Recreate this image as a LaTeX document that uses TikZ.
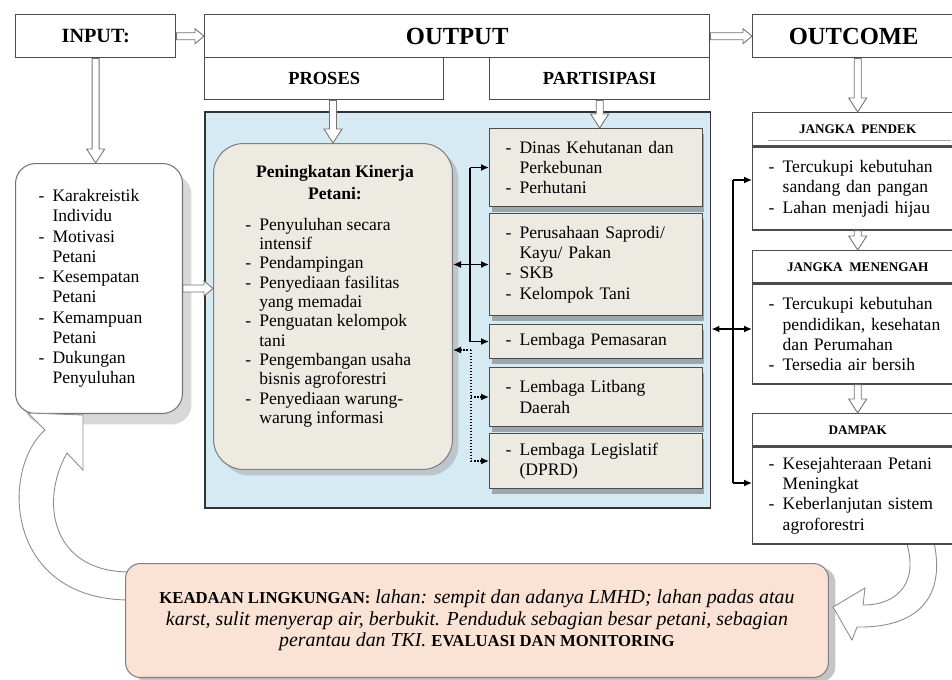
\documentclass[tikz,border=0pt]{standalone}
\usepackage{fontspec}
\setmainfont{Liberation Serif}
\usetikzlibrary{calc,shadows,arrows.meta,positioning}
\definecolor{panelblue}{RGB}{213,234,242}
\definecolor{boxgrey}{RGB}{237,234,226}
\definecolor{peach}{RGB}{250,227,213}
\def\varrow(#1)(#2){\draw[blk] ($(#1)+(-3.5,0)$) -- ($(#2)+(-3.5,-14)$) -- ($(#2)+(-9,-14)$) -- (#2) -- ($(#2)+(9,-14)$) -- ($(#2)+(3.5,-14)$) -- ($(#1)+(3.5,0)$) -- cycle;}
\def\harrow(#1)(#2){\draw[blk] ($(#1)+(0,-3.5)$) -- ($(#2)+(-9,-3.5)$) -- ($(#2)+(-9,-7.5)$) -- (#2) -- ($(#2)+(-9,7.5)$) -- ($(#2)+(-9,3.5)$) -- ($(#1)+(0,3.5)$) -- cycle;}
\newcommand{\itemdash}{\makebox[0.28cm][l]{-}}
\newcommand{\itemgap}{\hspace*{0.28cm}}

\begin{document}
\begin{tikzpicture}[x=0.02cm, y=-0.02cm,
	hdr/.style={draw=black!70, line width=0.8pt, fill=white, inner sep=0pt},
	lbox/.style={draw=black!55, line width=0.6pt, fill=white, rounded corners=0.4cm, drop shadow={shadow xshift=0.18cm, shadow yshift=-0.22cm, fill=black!30}},
	pkbox/.style={draw=black!50, line width=0.6pt, fill=boxgrey, rounded corners=0.6cm, drop shadow={shadow xshift=0.12cm, shadow yshift=-0.12cm, fill=black!35}},
	pbox/.style={draw=black!70, line width=0.6pt, fill=boxgrey, inner xsep=0.32cm, inner ysep=0pt, text width=3.62cm, align=left, font=\fontsize{10}{11.5}\selectfont, drop shadow={shadow xshift=0.04cm, shadow yshift=-0.1cm, fill=black!60}},
	rhead/.style={draw=black!70, line width=0.8pt, fill=white, minimum width=4.2cm, inner sep=0pt, font=\fontsize{7.5}{9}\selectfont\bfseries},
	rbody/.style={draw=black!70, line width=0.8pt, fill=white, inner xsep=0.32cm, inner ysep=0pt, text width=3.56cm, align=left, font=\fontsize{10}{11.5}\selectfont},
	blk/.style={draw=black!55, fill=white, line width=0.5pt},
	conn/.style={line width=0.8pt, -{Latex[length=1.6mm, width=1.4mm]}},
	dconn/.style={conn, densely dotted}]
		%%%%% START %%%%%
		\useasboundingbox (0,0) rectangle (952,679);
		
		% top row
		\node[hdr, anchor=north west, minimum width=3.2cm, minimum height=0.86cm, font=\fontsize{11.5}{13}\selectfont\bfseries] (inp) at (15,14) {INPUT:};
		\node[hdr, anchor=north west, minimum width=10.1cm, minimum height=0.86cm, font=\fontsize{14}{16}\selectfont\bfseries] (out) at (204,14) {OUTPUT};
		\node[hdr, anchor=north west, minimum width=4.78cm, minimum height=0.84cm, font=\fontsize{10.5}{12}\selectfont\bfseries] (pro) at (204,57) {PROSES};
		\node[hdr, anchor=north west, minimum width=4.4cm, minimum height=0.84cm, font=\fontsize{10.5}{12}\selectfont\bfseries] (par) at (489,57) {PARTISIPASI};
		\node[hdr, anchor=north west, minimum width=4.04cm, minimum height=0.86cm, font=\fontsize{14}{16}\selectfont\bfseries] (oc) at (752,14) {OUTCOME};
		
		% blue panel
		\node[draw=black!80, line width=0.9pt, fill=panelblue, anchor=north west, minimum width=10.12cm, minimum height=7.92cm, inner sep=0pt] (panel) at (204,111) {};
		
		\node[pkbox, anchor=north west, minimum width=4.78cm, minimum height=6.52cm, inner sep=0pt] (pk) at (213,143) {};
		\node[font=\fontsize{10}{12.5}\selectfont\bfseries, align=center, inner sep=0pt] (pkt) at (335,183) {Peningkatan Kinerja\\Petani:};
		\node[align=left, inner sep=0pt, anchor=west, font=\fontsize{10}{11}\selectfont] (pkl) at (245,322.5) {\itemdash Penyuluhan secara\\ \itemgap intensif\\ \itemdash Pendampingan\\ \itemdash Penyediaan fasilitas\\ \itemgap yang memadai\\ \itemdash Penguatan kelompok\\ \itemgap tani\\ \itemdash Pengembangan usaha\\ \itemgap bisnis agroforestri\\ \itemdash Penyediaan warung-\\ \itemgap warung informasi};
		
		\node[pbox, anchor=north west, minimum height=1.56cm] (b1) at (489,128) {\itemdash Dinas Kehutanan dan\\ \itemgap Perkebunan\\ \itemdash Perhutani};
		\node[pbox, anchor=north west, minimum height=2.04cm] (b2) at (489,213) {\itemdash Perusahaan Saprodi/\\ \itemgap Kayu/ Pakan\\ \itemdash SKB\\ \itemdash Kelompok Tani};
		\node[pbox, anchor=north west, minimum height=0.68cm] (b3) at (489,324) {\itemdash Lembaga Pemasaran};
		\node[pbox, anchor=north west, minimum height=1.18cm] (b4) at (489,367) {\itemdash Lembaga Litbang\\ \itemgap Daerah};
		\node[pbox, anchor=north west, minimum height=1.1cm] (b5) at (489,433) {\itemdash Lembaga Legislatif\\ \itemgap (DPRD)};
		
		% input list
		\node[lbox, anchor=north west, minimum width=3.34cm, minimum height=5cm, inner xsep=0.46cm, inner ysep=0pt, text width=2.42cm, align=left, font=\fontsize{10}{11.5}\selectfont] (lst) at (15,163) {\itemdash Karakreistik\\ \itemgap Individu\\ \itemdash Motivasi\\ \itemgap Petani\\ \itemdash Kesempatan\\ \itemgap Petani\\ \itemdash Kemampuan\\ \itemgap Petani\\ \itemdash Dukungan\\ \itemgap Penyuluhan};
		
		% feedback arrow, left
		\draw[blk, draw=black!45] (130,572) .. controls (50,572) and (40,500) .. (67,453) -- (83,470) -- (83,415) -- (28,413) -- (45,430) .. controls (0,470) and (5,600) .. (130,600) -- cycle;
		
		% environment box
		\node[anchor=north west, draw=black!50, line width=0.6pt, fill=peach, rounded corners=0.3cm, minimum width=14.06cm, minimum height=2.28cm, align=center, font=\fontsize{11.3}{12.2}\selectfont\itshape, drop shadow={shadow xshift=0.14cm, shadow yshift=-0.08cm, fill=black!45}] (env) at (125,563) {{\upshape\bfseries\fontsize{9.5}{12.2}\selectfont KEADAAN LINGKUNGAN:} lahan: sempit dan adanya LMHD; lahan padas atau\\ karst, sulit menyerap air, berbukit. Penduduk sebagian besar petani, sebagian\\ perantau dan TKI. {\upshape\bfseries\fontsize{9.5}{12.2}\selectfont EVALUASI DAN MONITORING}};
		
		% feedback arrow, right
		\draw[blk, draw=black!45] (933,538) .. controls (948,600) and (915,628) .. (857,627) -- (852,640) -- (833,607) -- (865,588) -- (863,605) .. controls (900,605) and (920,580) .. (905,538) -- cycle;
		
		% outcome column
		\node[rhead, anchor=north west, minimum height=0.66cm] (jph) at (752,112) {JANGKA\ \ PENDEK};
		\node[rbody, below=0pt of jph, minimum height=1.66cm] (jpb) {\itemdash Tercukupi kebutuhan\\ \itemgap sandang dan pangan\\ \itemdash Lahan menjadi hijau};
		\draw[black!35, line width=0.8pt] ($(jph.south west)+(16,-6)$) -- ($(jph.south east)+(-12,-6)$);
		\node[rhead, anchor=north west, minimum height=0.64cm] (jmh) at (752,250) {JANGKA\ \ MENENGAH};
		\node[rbody, below=0pt of jmh, minimum height=2cm] (jmb) {\itemdash Tercukupi kebutuhan\\ \itemgap pendidikan, kesehatan\\ \itemgap dan Perumahan\\ \itemdash Tersedia air bersih};
		\node[rhead, anchor=north west, minimum height=0.64cm] (dph) at (752,413) {DAMPAK};
		\node[rbody, below=0pt of dph, minimum height=1.94cm] (dpb) {\itemdash Kesejahteraan Petani\\ \itemgap Meningkat\\ \itemdash Keberlanjutan sistem\\ \itemgap agroforestri};
		
		% block arrows
		\harrow(inp.east)(out.west)
		\harrow(out.east)(oc.west)
		\varrow(inp.south)(inp.south |- lst.north)
		\varrow(pk.north |- pro.south)(pk.north)
		\varrow(par.south)(par.south |- b1.north)
		\varrow(jph.north |- oc.south)(jph.north)
		\varrow(jpb.south)(jmh.north)
		\varrow(jmb.south)(dph.north)
		\harrow(lst.east)(lst.east -| pk.west)
		
		% links to partners
		\coordinate (tk) at (470,0);
		\draw[line width=0.8pt] (tk |- b1.west) -- (tk |- b3.west);
		\draw[conn] (tk |- b1.west) -- (b1.west);
		\draw[conn] (tk |- b2.west) -- (b2.west);
		\draw[conn] (tk |- b3.west) -- (b3.west);
		\draw[conn] (tk |- b2.west) -- (pk.east |- b2.west);
		
		\coordinate (dk) at (471,350);
		\draw[densely dotted, line width=0.7pt] (dk) -- (dk |- b5.west);
		\draw[dconn] (dk) -- (dk -| pk.east);
		\draw[dconn] (dk |- b4.west) -- (b4.west);
		\draw[dconn] (dk |- b5.west) -- (b5.west);
		
		% links to outcomes
		\coordinate (rt) at (733,180);
		\coordinate (rk) at (733,329);
		\coordinate (rb) at (733,483);
		\draw[line width=0.9pt] (rt) -- (rb);
		\draw[conn] (rt) -- (rt -| jpb.west);
		\draw[conn] (rk) -- (rk -| jmb.west);
		\draw[conn] (rb) -- (rb -| dpb.west);
		\draw[conn] (rk) -- (rk -| panel.east);
		%%%%% END %%%%%
	\end{tikzpicture}
\end{document}
